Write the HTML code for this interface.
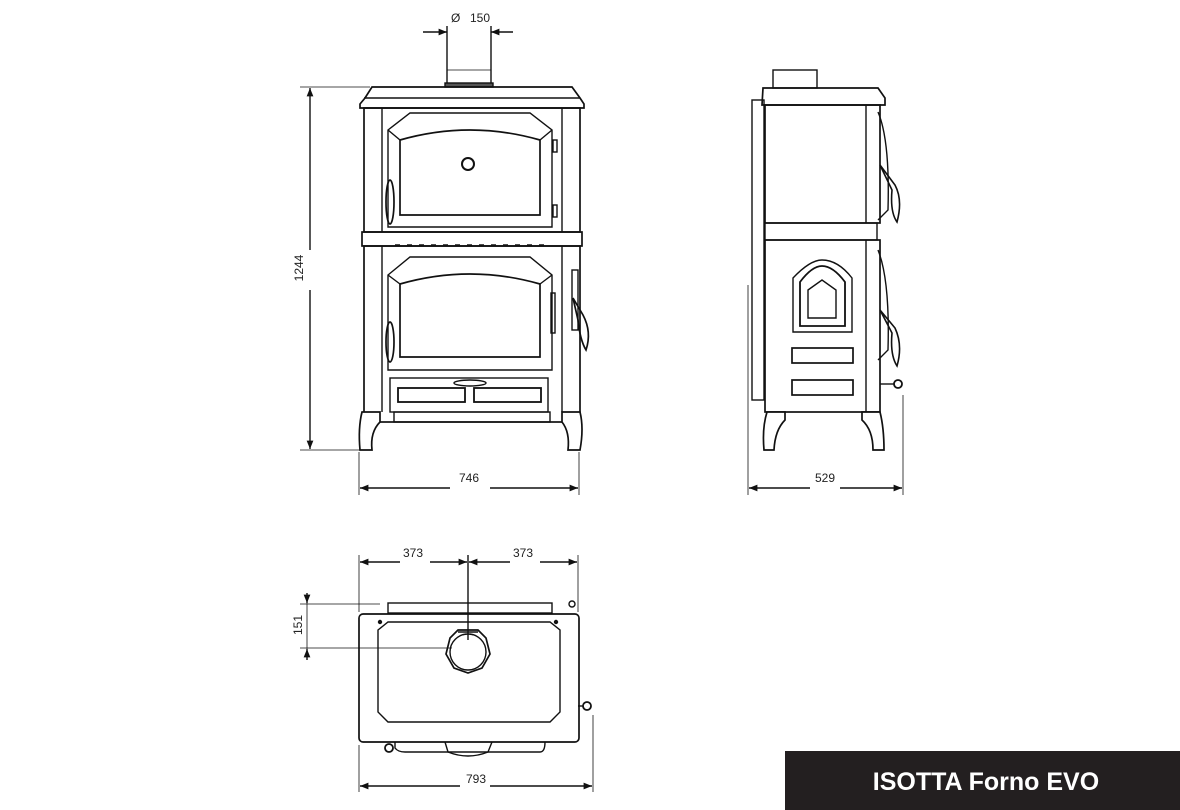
<!DOCTYPE html>
<html><head><meta charset="utf-8"><style>
html,body{margin:0;padding:0;background:#fff;width:1180px;height:810px;overflow:hidden}
svg{display:block}
text{font-family:"Liberation Sans",sans-serif;fill:#222}
</style></head><body>
<svg width="1180" height="810" viewBox="0 0 1180 810" xmlns="http://www.w3.org/2000/svg">
<defs>
<marker id="a" viewBox="0 0 10 10" refX="10" refY="5" markerWidth="8" markerHeight="6" orient="auto-start-reverse"><path d="M0,1 L10,5 L0,9z" fill="#111"/></marker>
</defs>
<g stroke="#111" stroke-width="1.4" fill="none">
<!-- FRONT VIEW -->
<line x1="423" y1="32" x2="447" y2="32" marker-end="url(#a)"/>
<line x1="513" y1="32" x2="491" y2="32" marker-end="url(#a)"/>
<line x1="447" y1="26" x2="447" y2="86"/><line x1="491" y1="26" x2="491" y2="86"/>
<line x1="447" y1="70" x2="491" y2="70" stroke-width=".8"/>
<rect x="445" y="83" width="48" height="4" fill="#555"/>
<path d="M372,87 L572,87 L580,98 L584,104 L584,108 L360,108 L360,104 L365,98 Z" stroke-width="1.7"/>
<line x1="364" y1="98" x2="580" y2="98"/>
<rect x="364" y="108" width="216" height="124" stroke-width="1.7"/>
<line x1="382" y1="108" x2="382" y2="232"/><line x1="562" y1="108" x2="562" y2="232"/>
<path d="M388,130 L410,113 L530,113 L552,130 L552,227 L388,227Z"/>
<path d="M400,140 Q470,120 540,140 L540,215 L400,215Z" stroke-width="1.7"/>
<line x1="388" y1="130" x2="400" y2="140"/><line x1="552" y1="130" x2="540" y2="140"/>
<circle cx="468" cy="164" r="6" stroke-width="2"/>
<ellipse cx="390" cy="202" rx="4" ry="22" stroke-width="1.7"/>
<rect x="553" y="140" width="4" height="12"/><rect x="553" y="205" width="4" height="12"/>
<rect x="362" y="232" width="220" height="14" stroke-width="1.7"/>
<line x1="395" y1="245" x2="545" y2="245" stroke-dasharray="5,7"/>
<rect x="364" y="246" width="216" height="176" stroke-width="1.7"/>
<line x1="382" y1="246" x2="382" y2="412"/><line x1="562" y1="246" x2="562" y2="412"/>
<path d="M388,275 L410,257 L530,257 L552,275 L552,370 L388,370Z"/>
<path d="M400,284 Q470,264 540,284 L540,357 L400,357Z" stroke-width="1.7"/>
<line x1="388" y1="275" x2="400" y2="284"/><line x1="552" y1="275" x2="540" y2="284"/>
<ellipse cx="390" cy="342" rx="4" ry="20" stroke-width="1.7"/>
<rect x="551" y="293" width="4" height="40"/>
<path d="M573,298 L583,315 Q592,332 586,350 Q580,340 578,320 Z" stroke-width="1.7"/>
<rect x="572" y="270" width="6" height="60"/>
<rect x="390" y="378" width="158" height="34"/>
<rect x="398" y="388" width="67" height="14" stroke-width="1.8"/>
<rect x="474" y="388" width="67" height="14" stroke-width="1.8"/>
<ellipse cx="470" cy="383" rx="16" ry="3"/>
<rect x="394" y="412" width="156" height="10"/>
<path d="M362,412 L380,412 L380,422 Q370,432 372,450 L360,450 Q358,428 362,412Z" stroke-width="1.7" fill="#fff"/>
<path d="M562,412 L580,412 Q584,428 580,450 L568,450 Q570,432 562,422Z" stroke-width="1.7" fill="#fff"/>
<!-- 1244 -->
<line x1="300" y1="87" x2="370" y2="87" stroke-width=".8"/>
<line x1="300" y1="450" x2="360" y2="450" stroke-width=".8"/>
<line x1="310" y1="250" x2="310" y2="88" marker-end="url(#a)"/>
<line x1="310" y1="290" x2="310" y2="449" marker-end="url(#a)"/>
<!-- 746 -->
<line x1="359" y1="452" x2="359" y2="495" stroke-width=".8"/>
<line x1="579" y1="452" x2="579" y2="495" stroke-width=".8"/>
<line x1="450" y1="488" x2="360" y2="488" marker-end="url(#a)"/>
<line x1="490" y1="488" x2="578" y2="488" marker-end="url(#a)"/>

<!-- SIDE VIEW -->
<rect x="773" y="70" width="44" height="18"/>
<path d="M763,88 L878,88 L885,98 L885,105 L762,105 Z" stroke-width="1.7"/>
<rect x="765" y="105" width="115" height="118" stroke-width="1.7"/>
<line x1="866" y1="105" x2="866" y2="223"/>
<rect x="752" y="100" width="12" height="300"/>
<rect x="765" y="223" width="112" height="17"/>
<rect x="765" y="240" width="115" height="172" stroke-width="1.7"/>
<line x1="866" y1="240" x2="866" y2="412"/>
<path d="M793,278 Q810,260 822,260 Q838,260 852,278 L852,332 L793,332Z"/>
<path d="M800,282 Q812,266 822,266 Q833,266 845,282 L845,326 L800,326Z" stroke-width="1.8"/>
<path d="M808,290 L822,280 L836,290 L836,318 L808,318Z"/>
<rect x="792" y="348" width="61" height="15" stroke-width="1.7"/>
<rect x="792" y="380" width="61" height="15" stroke-width="1.7"/>
<path d="M878,112 Q890,140 888,210 L878,220" />
<path d="M880,165 L895,185 Q903,200 897,222 Q890,212 892,190Z" stroke-width="1.6"/>
<path d="M878,250 Q890,280 888,350 L878,360"/>
<path d="M880,310 L895,328 Q903,345 897,366 Q890,355 892,333Z" stroke-width="1.6"/>
<circle cx="898" cy="384" r="4" stroke-width="1.8"/>
<line x1="880" y1="384" x2="894" y2="384"/>
<path d="M767,412 L785,412 L785,420 Q775,430 774,450 L764,450 Q762,428 767,412Z" stroke-width="1.7" fill="#fff"/>
<path d="M862,412 L880,412 Q884,428 884,450 L873,450 Q873,430 862,420Z" stroke-width="1.7" fill="#fff"/>
<line x1="748" y1="285" x2="748" y2="495" stroke-width=".8"/>
<line x1="903" y1="395" x2="903" y2="495" stroke-width=".8"/>
<line x1="810" y1="488" x2="749" y2="488" marker-end="url(#a)"/>
<line x1="840" y1="488" x2="902" y2="488" marker-end="url(#a)"/>

<!-- TOP VIEW -->
<line x1="359" y1="555" x2="359" y2="612" stroke-width=".8"/>
<line x1="578" y1="555" x2="578" y2="612" stroke-width=".8"/>
<line x1="468" y1="555" x2="468" y2="640"/>
<line x1="400" y1="562" x2="360" y2="562" marker-end="url(#a)"/>
<line x1="430" y1="562" x2="467" y2="562" marker-end="url(#a)"/>
<line x1="510" y1="562" x2="469" y2="562" marker-end="url(#a)"/>
<line x1="540" y1="562" x2="577" y2="562" marker-end="url(#a)"/>
<rect x="388" y="603" width="164" height="10"/>
<line x1="300" y1="604" x2="380" y2="604" stroke-width=".8"/>
<line x1="300" y1="648" x2="452" y2="648" stroke-width=".8"/>
<line x1="307" y1="593" x2="307" y2="603" marker-end="url(#a)"/>
<line x1="307" y1="660" x2="307" y2="649" marker-end="url(#a)"/>
<line x1="307" y1="603" x2="307" y2="649" stroke-width=".8"/>
<rect x="359" y="614" width="220" height="128" rx="4" stroke-width="1.7"/>
<path d="M378,630 L388,622 L550,622 L560,630 L560,712 L550,722 L388,722 L378,712Z"/>
<path d="M450,638 L458,630 L478,630 L486,638 L490,654 L482,668 L468,673 L454,668 L446,654Z" stroke-width="1.7"/>
<circle cx="468" cy="652" r="18"/>
<line x1="458" y1="632" x2="478" y2="632"/>
<circle cx="380" cy="622" r="1.5" fill="#111"/><circle cx="556" cy="622" r="1.5" fill="#111"/>
<circle cx="572" cy="604" r="3"/>
<circle cx="587" cy="706" r="4" stroke-width="1.8"/>
<line x1="578" y1="706" x2="583" y2="706"/>
<path d="M395,742 L395,748 Q398,752 405,752 L540,752 Q545,752 545,742"/>
<path d="M445,742 L448,752 Q468,760 488,752 L492,742"/>
<circle cx="389" cy="748" r="4" stroke-width="1.8"/>
<line x1="359" y1="745" x2="359" y2="792" stroke-width=".8"/>
<line x1="593" y1="715" x2="593" y2="792" stroke-width=".8"/>
<line x1="460" y1="786" x2="360" y2="786" marker-end="url(#a)"/>
<line x1="490" y1="786" x2="592" y2="786" marker-end="url(#a)"/>
</g>
<g font-size="12">
<text x="451" y="22">Ø</text><text x="470" y="22">150</text>
<text x="469" y="482" text-anchor="middle">746</text>
<text x="825" y="482" text-anchor="middle">529</text>
<text x="413" y="557" text-anchor="middle">373</text>
<text x="523" y="557" text-anchor="middle">373</text>
<text x="476" y="783" text-anchor="middle">793</text>
<text transform="translate(303,268) rotate(-90)" text-anchor="middle">1244</text>
<text transform="translate(302,625) rotate(-90)" text-anchor="middle">151</text>
</g>
<rect x="785" y="751" width="395" height="59" fill="#231f20"/>
<text x="986" y="790" text-anchor="middle" font-size="25" font-weight="bold" style="fill:#fff">ISOTTA Forno EVO</text>
</svg>
</body></html>
